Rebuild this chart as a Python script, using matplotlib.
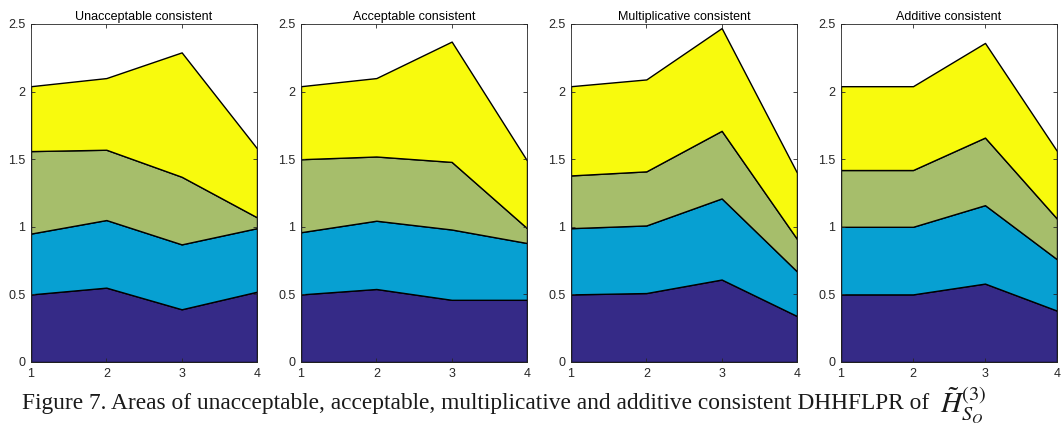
import matplotlib
matplotlib.use("Agg")
import matplotlib.pyplot as plt
import numpy as np

# данные: верхние границы слоёв (накопленные), слои считаются ниже
x_vals = [1, 2, 3, 4]
titles = ["Unacceptable consistent", "Acceptable consistent",
          "Multiplicative consistent", "Additive consistent"]

unacc_tops = [[0.50, 0.55, 0.39, 0.52],
              [0.95, 1.05, 0.87, 0.99],
              [1.56, 1.57, 1.37, 1.07],
              [2.04, 2.10, 2.29, 1.58]]
acc_tops = [[0.50, 0.54, 0.46, 0.46],
            [0.96, 1.045, 0.98, 0.88],
            [1.50, 1.52, 1.48, 0.99],
            [2.04, 2.10, 2.37, 1.49]]
mult_tops = [[0.50, 0.51, 0.61, 0.34],
             [0.99, 1.01, 1.21, 0.67],
             [1.38, 1.41, 1.71, 0.91],
             [2.04, 2.09, 2.47, 1.40]]
add_tops = [[0.50, 0.50, 0.58, 0.38],
            [1.00, 1.00, 1.16, 0.76],
            [1.42, 1.42, 1.66, 1.06],
            [2.04, 2.04, 2.36, 1.56]]

layer_colors = ["#352a87", "#07a0d2", "#a6be6b", "#f8fa0d"]

plt.rcParams["mathtext.fontset"] = "stix"

fig = plt.figure(figsize=(10.63, 4.43), dpi=100)
W, H = 1063, 443

lefts = [31, 301, 571, 841]
widths = [226, 226, 226, 216]
ax_bottom = 362
ax_top = 24

for i, tops in enumerate([unacc_tops, acc_tops, mult_tops, add_tops]):
    ax = fig.add_axes([lefts[i] / W, 1 - ax_bottom / H, widths[i] / W, (ax_bottom - ax_top) / H])
    tops = np.array(tops)
    layers = np.diff(np.vstack([np.zeros(len(x_vals)), tops]), axis=0)
    ax.stackplot(x_vals, layers, colors=layer_colors, edgecolor="black", linewidth=1.0)
    ax.set_xlim(1, 4)
    ax.set_ylim(0, 2.5)
    ax.set_xticks([1, 2, 3, 4])
    ax.set_yticks([0, 0.5, 1, 1.5, 2, 2.5])
    ax.set_yticklabels(["0", "0.5", "1", "1.5", "2", "2.5"])
    ax.tick_params(direction="in", top=True, right=True, length=3, width=0.6,
                   labelsize=9, labelcolor="#262626", color="#262626", pad=4)
    for sp in ax.spines.values():
        sp.set_linewidth(0.6)
        sp.set_color("#262626")
    ax.set_title(titles[i], fontsize=9, pad=3, family="Liberation Sans")
    for lab in ax.get_xticklabels() + ax.get_yticklabels():
        lab.set_family("Liberation Sans")

# подпись рисунка: текст + формула отдельно (формула крупнее)
cap = fig.text(22 / W, 1 - 409 / H,
               "Figure 7. Areas of unacceptable, acceptable, multiplicative and additive consistent DHHFLPR of",
               fontsize=16.8, family="Liberation Serif", color="#1a1a1a", va="baseline", ha="left")
renderer = fig.canvas.get_renderer()
bb = cap.get_window_extent(renderer)
fig.text((bb.x1 + 11) / W, 1 - 412 / H, r"$\tilde{H}_{S_O}^{(3)}$",
         fontsize=21, color="#1a1a1a", va="baseline", ha="left")

fig.savefig("out.png", dpi=100)
